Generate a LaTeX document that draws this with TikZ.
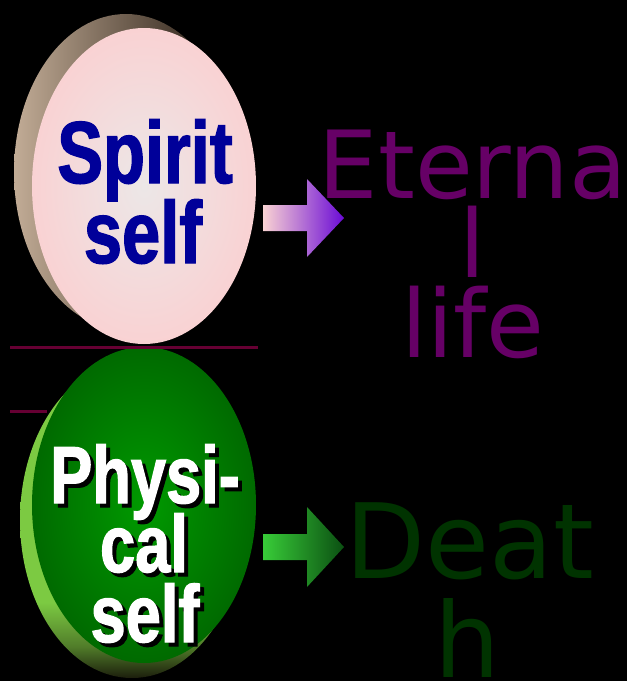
\documentclass[tikz,border=0pt]{standalone}
\usepackage{fontspec}
\usetikzlibrary{shapes.geometric}
\newfontfamily\heavyfont[UprightFont=* Bold, FakeStretch=0.78, FakeBold=1.5]{Liberation Sans}
\newfontfamily\plainfont{DejaVu Sans}
\definecolor{spiritblue}{HTML}{000099}
\definecolor{lifepurple}{HTML}{660066}
\definecolor{deathgreen}{HTML}{003300}
\definecolor{rulemaroon}{HTML}{660033}
\definecolor{pinkface}{HTML}{F9D2D3}
\definecolor{pinkglow}{HTML}{ECE7E7}
\definecolor{tanrim}{HTML}{C2AC96}
\definecolor{darkrim}{HTML}{1A1008}
\definecolor{greenface}{HTML}{006A00}
\definecolor{greenglow}{HTML}{009A00}
\definecolor{limerim}{HTML}{7CCA42}
\definecolor{shadowrim}{HTML}{1C1E0C}
\definecolor{violettip}{HTML}{6A0AD6}
\definecolor{limetail}{HTML}{38CC38}
\definecolor{pinetip}{HTML}{0B4F12}
\pgfdeclareverticalshading{bodyrimshade}{100bp}{color(0bp)=(shadowrim); color(25bp)=(shadowrim);
  color(30bp)=(limerim!55!shadowrim); color(37bp)=(limerim); color(100bp)=(limerim)}
\tikzset{
  face/.style={ellipse, minimum width=224pt, minimum height=316pt, inner sep=0pt},
  bigword/.style={font=\heavyfont\fontsize{#1}{#1}\selectfont, anchor=base, inner sep=0pt},
  endword/.style={font=\plainfont\fontsize{#1}{#1}\selectfont, anchor=base, inner sep=0pt}
}
\begin{document}
\begin{tikzpicture}[x=1pt, y=-1pt]
  \fill[black] (0,0) rectangle (627,681);
  \useasboundingbox (0,0) rectangle (627,681);
  % spirit disc
  \node[face, left color=tanrim, right color=darkrim] (spiritrim) at (126,172) {};
  \node[face, inner color=pinkglow, outer color=pinkface] (spirit) at (144,186) {};
  \node[bigword=88, text=spiritblue] (spirit1) at (145,183) {Spirit};
  \node[bigword=88, text=spiritblue] (spirit2) at (143,263) {self};
  % physical disc
  \node[face, shading=bodyrimshade] (bodyrim) at (132,520) {};
  \node[face, inner color=greenglow, outer color=greenface] (body) at (144,505) {};
  \foreach \w/\x/\y [count=\i] in {Physi-/145/503, cal/144/572, self/145/642} {
    \node[bigword=81, text=black] (bodyshadow\i) at (\x+4,\y+4) {\w};
    \node[bigword=81, text=white] (body\i) at (\x,\y) {\w};
  }
  % rules
  \draw[rulemaroon, line width=3pt] (10,347) -- (258,347);
  \draw[rulemaroon, line width=3pt] (10,411) -- (47,411);
  % arrows
  \shade[left color=pinkface, right color=violettip] (263,205) -- (307,205) -- (307,179)
    -- (344,218) -- (307,257) -- (307,231) -- (263,231) -- cycle;
  \shade[left color=limetail, right color=pinetip] (263,534) -- (307,534)
    -- (307,507) -- (344,547) -- (307,587) -- (307,560) -- (263,560) -- cycle;
  % outcomes
  \node[endword=94, text=lifepurple] (life1) at (473,198) {Eterna};
  \node[endword=94, text=lifepurple] (life2) at (473,277) {l};
  \node[endword=94, text=lifepurple] (life3) at (473,357) {life};
  \node[endword=104, text=deathgreen] (death1) at (470,578) {Deat};
  \node[endword=104, text=deathgreen] (death2) at (467,677) {h};
\end{tikzpicture}
\end{document}
